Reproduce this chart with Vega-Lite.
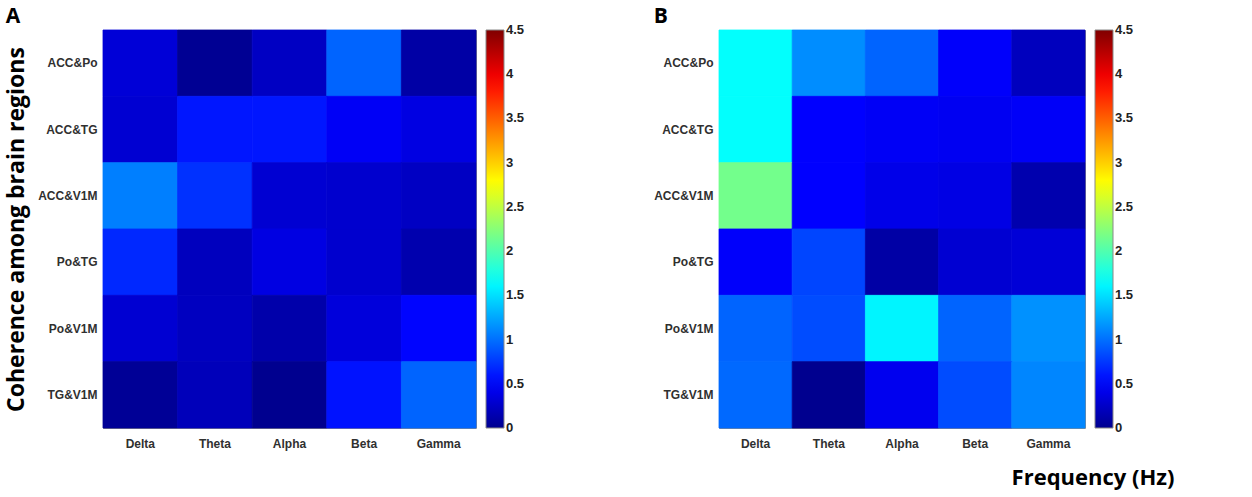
{
  "$schema": "https://vega.github.io/schema/vega-lite/v6.json",
  "data": {
    "values": [
      {"panel": "A", "pair": "ACC&Po", "band": "Delta", "value": 0.32},
      {"panel": "A", "pair": "ACC&Po", "band": "Theta", "value": 0.02},
      {"panel": "A", "pair": "ACC&Po", "band": "Alpha", "value": 0.23},
      {"panel": "A", "pair": "ACC&Po", "band": "Beta", "value": 0.95},
      {"panel": "A", "pair": "ACC&Po", "band": "Gamma", "value": 0.1},
      {"panel": "A", "pair": "ACC&TG", "band": "Delta", "value": 0.3},
      {"panel": "A", "pair": "ACC&TG", "band": "Theta", "value": 0.6},
      {"panel": "A", "pair": "ACC&TG", "band": "Alpha", "value": 0.6},
      {"panel": "A", "pair": "ACC&TG", "band": "Beta", "value": 0.46},
      {"panel": "A", "pair": "ACC&TG", "band": "Gamma", "value": 0.37},
      {"panel": "A", "pair": "ACC&V1M", "band": "Delta", "value": 1.07},
      {"panel": "A", "pair": "ACC&V1M", "band": "Theta", "value": 0.72},
      {"panel": "A", "pair": "ACC&V1M", "band": "Alpha", "value": 0.3},
      {"panel": "A", "pair": "ACC&V1M", "band": "Beta", "value": 0.28},
      {"panel": "A", "pair": "ACC&V1M", "band": "Gamma", "value": 0.23},
      {"panel": "A", "pair": "Po&TG", "band": "Delta", "value": 0.68},
      {"panel": "A", "pair": "Po&TG", "band": "Theta", "value": 0.21},
      {"panel": "A", "pair": "Po&TG", "band": "Alpha", "value": 0.37},
      {"panel": "A", "pair": "Po&TG", "band": "Beta", "value": 0.28},
      {"panel": "A", "pair": "Po&TG", "band": "Gamma", "value": 0.14},
      {"panel": "A", "pair": "Po&V1M", "band": "Delta", "value": 0.3},
      {"panel": "A", "pair": "Po&V1M", "band": "Theta", "value": 0.22},
      {"panel": "A", "pair": "Po&V1M", "band": "Alpha", "value": 0.12},
      {"panel": "A", "pair": "Po&V1M", "band": "Beta", "value": 0.34},
      {"panel": "A", "pair": "Po&V1M", "band": "Gamma", "value": 0.52},
      {"panel": "A", "pair": "TG&V1M", "band": "Delta", "value": 0.03},
      {"panel": "A", "pair": "TG&V1M", "band": "Theta", "value": 0.19},
      {"panel": "A", "pair": "TG&V1M", "band": "Alpha", "value": 0.0},
      {"panel": "A", "pair": "TG&V1M", "band": "Beta", "value": 0.58},
      {"panel": "A", "pair": "TG&V1M", "band": "Gamma", "value": 0.95},
      {"panel": "B", "pair": "ACC&Po", "band": "Delta", "value": 1.65},
      {"panel": "B", "pair": "ACC&Po", "band": "Theta", "value": 1.13},
      {"panel": "B", "pair": "ACC&Po", "band": "Alpha", "value": 0.95},
      {"panel": "B", "pair": "ACC&Po", "band": "Beta", "value": 0.48},
      {"panel": "B", "pair": "ACC&Po", "band": "Gamma", "value": 0.21},
      {"panel": "B", "pair": "ACC&TG", "band": "Delta", "value": 1.65},
      {"panel": "B", "pair": "ACC&TG", "band": "Theta", "value": 0.5},
      {"panel": "B", "pair": "ACC&TG", "band": "Alpha", "value": 0.46},
      {"panel": "B", "pair": "ACC&TG", "band": "Beta", "value": 0.44},
      {"panel": "B", "pair": "ACC&TG", "band": "Gamma", "value": 0.47},
      {"panel": "B", "pair": "ACC&V1M", "band": "Delta", "value": 2.16},
      {"panel": "B", "pair": "ACC&V1M", "band": "Theta", "value": 0.5},
      {"panel": "B", "pair": "ACC&V1M", "band": "Alpha", "value": 0.4},
      {"panel": "B", "pair": "ACC&V1M", "band": "Beta", "value": 0.38},
      {"panel": "B", "pair": "ACC&V1M", "band": "Gamma", "value": 0.14},
      {"panel": "B", "pair": "Po&TG", "band": "Delta", "value": 0.48},
      {"panel": "B", "pair": "Po&TG", "band": "Theta", "value": 0.81},
      {"panel": "B", "pair": "Po&TG", "band": "Alpha", "value": 0.1},
      {"panel": "B", "pair": "Po&TG", "band": "Beta", "value": 0.3},
      {"panel": "B", "pair": "Po&TG", "band": "Gamma", "value": 0.32},
      {"panel": "B", "pair": "Po&V1M", "band": "Delta", "value": 0.95},
      {"panel": "B", "pair": "Po&V1M", "band": "Theta", "value": 0.84},
      {"panel": "B", "pair": "Po&V1M", "band": "Alpha", "value": 1.6},
      {"panel": "B", "pair": "Po&V1M", "band": "Beta", "value": 0.95},
      {"panel": "B", "pair": "Po&V1M", "band": "Gamma", "value": 1.15},
      {"panel": "B", "pair": "TG&V1M", "band": "Delta", "value": 0.97},
      {"panel": "B", "pair": "TG&V1M", "band": "Theta", "value": 0.0},
      {"panel": "B", "pair": "TG&V1M", "band": "Alpha", "value": 0.43},
      {"panel": "B", "pair": "TG&V1M", "band": "Beta", "value": 0.84},
      {"panel": "B", "pair": "TG&V1M", "band": "Gamma", "value": 1.1}
    ]
  },
  "config": {
    "view": {"stroke": "#8c8c8c", "strokeWidth": 1},
    "axis": {
      "labelFont": "Liberation Sans",
      "labelFontWeight": "bold",
      "labelFontSize": 12,
      "labelColor": "#303030",
      "ticks": false,
      "domain": false,
      "grid": false,
      "titleFont": "Open Sans",
      "titleFontWeight": "bold",
      "titleColor": "#000000"
    },
    "legend": {
      "gradientLength": 398,
      "gradientThickness": 18,
      "offset": 10,
      "labelFont": "Liberation Sans",
      "labelFontWeight": "bold",
      "labelFontSize": 13,
      "labelColor": "#222222",
      "labelOffset": 6,
      "gradientStrokeColor": "#888888",
      "gradientStrokeWidth": 1
    },
    "title": {"font": "Open Sans", "fontSize": 21, "fontWeight": "bold", "color": "#000000", "anchor": "start", "frame": "bounds", "offset": 3}
  },
  "spacing": 127,
  "resolve": {"scale": {"color": "independent"}},
  "hconcat": [
    {
      "title": "A",
      "width": 373,
      "height": 398,
      "transform": [{"filter": "datum.panel === 'A'"}],
      "mark": {"type": "rect", "strokeWidth": 0.8, "stroke": {"expr": "scale('concat_0_color', datum.value)"}},
      "encoding": {
        "x": {
          "field": "band", "type": "nominal",
          "sort": ["Delta", "Theta", "Alpha", "Beta", "Gamma"],
          "scale": {"paddingInner": 0, "paddingOuter": 0},
          "axis": {"title": null, "labelAngle": 0, "labelPadding": 10}
        },
        "y": {
          "field": "pair", "type": "nominal",
          "sort": ["ACC&Po", "ACC&TG", "ACC&V1M", "Po&TG", "Po&V1M", "TG&V1M"],
          "scale": {"paddingInner": 0, "paddingOuter": 0},
          "axis": {"title": "Coherence among brain regions", "titleFontSize": 23, "titlePadding": 9, "labelPadding": 6}
        },
        "color": {
          "field": "value", "type": "quantitative",
          "scale": {
            "domain": [0, 0.5, 1.643, 2.786, 3.929, 4.5],
            "range": ["#00008F", "#0000FF", "#00FFFF", "#FFFF00", "#FF0000", "#800000"],
            "interpolate": "rgb"
          },
          "legend": {
            "type": "gradient", "title": null, "values": [0, 0.5, 1, 1.5, 2, 2.5, 3, 3.5, 4, 4.5], "format": ".1~f",
            "encode": {"labels": {"update": {"baseline": {"value": "middle"}}}}
          }
        }
      }
    },
    {
      "title": "B",
      "width": 366,
      "height": 398,
      "transform": [{"filter": "datum.panel === 'B'"}],
      "mark": {"type": "rect", "strokeWidth": 0.8, "stroke": {"expr": "scale('concat_1_color', datum.value)"}},
      "encoding": {
        "x": {
          "field": "band", "type": "nominal",
          "sort": ["Delta", "Theta", "Alpha", "Beta", "Gamma"],
          "scale": {"paddingInner": 0, "paddingOuter": 0},
          "axis": {"title": "Frequency (Hz)", "titleFontSize": 22, "titleX": 455, "titleY": 56, "titleAlign": "right", "titleBaseline": "alphabetic", "labelAngle": 0, "labelPadding": 10}
        },
        "y": {
          "field": "pair", "type": "nominal",
          "sort": ["ACC&Po", "ACC&TG", "ACC&V1M", "Po&TG", "Po&V1M", "TG&V1M"],
          "scale": {"paddingInner": 0, "paddingOuter": 0},
          "axis": {"title": null, "labelPadding": 6}
        },
        "color": {
          "field": "value", "type": "quantitative",
          "scale": {
            "domain": [0, 0.5, 1.643, 2.786, 3.929, 4.5],
            "range": ["#00008F", "#0000FF", "#00FFFF", "#FFFF00", "#FF0000", "#800000"],
            "interpolate": "rgb"
          },
          "legend": {
            "type": "gradient", "title": null, "values": [0, 0.5, 1, 1.5, 2, 2.5, 3, 3.5, 4, 4.5], "format": ".1~f",
            "encode": {"labels": {"update": {"baseline": {"value": "middle"}}}}
          }
        }
      }
    }
  ]
}
